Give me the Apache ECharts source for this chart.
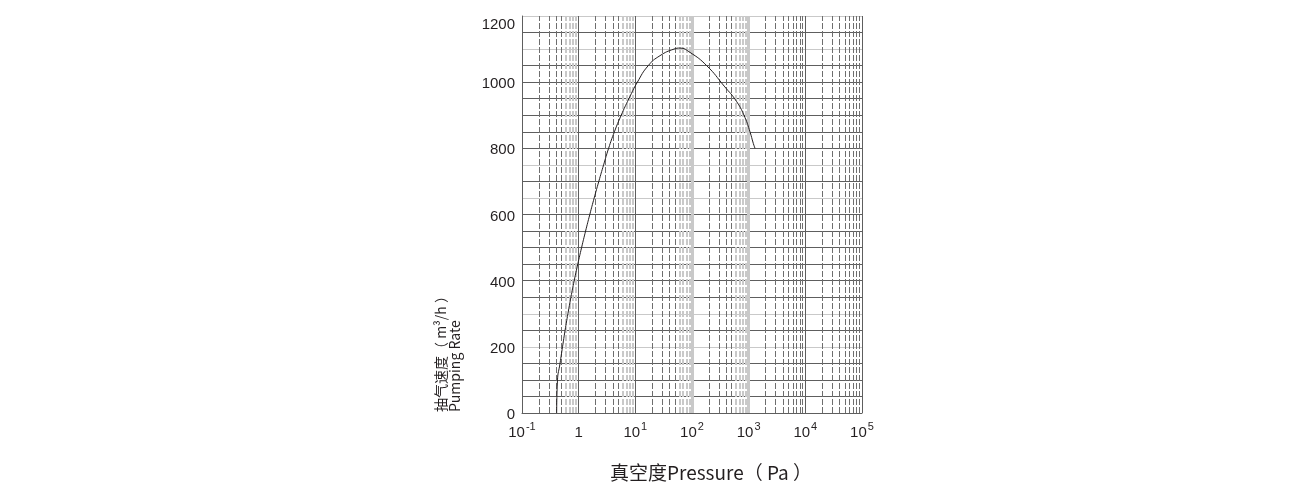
<!DOCTYPE html>
<html><head><meta charset="utf-8">
<script src="https://cdn.jsdelivr.net/npm/echarts@6/dist/echarts.min.js"></script>
<style>html,body{margin:0;padding:0;background:#fff}#c{width:1300px;height:500px}</style>
</head><body><div id="c"></div>
<script>
// ---- data ----
const pressure = [0.409, 0.423, 0.469, 0.519, 0.576, 0.646, 0.730, 0.834, 0.965, 1.126, 1.325, 1.572, 1.879, 2.266, 2.754, 3.375, 4.272, 5.63, 7.70, 10.87, 16.9, 27.2, 48.1, 61.4, 92.1, 181.6, 370, 614.8, 861, 1055, 1207, 1294];
const pumpingRate = [0, 100, 150, 200, 250, 300, 350, 400, 450, 500, 550, 600, 650, 700, 750, 800, 850, 900, 950, 1000, 1050, 1080, 1100, 1103, 1090, 1050, 988, 941, 893, 850, 815, 800];
const xTickExponents = [-1, 0, 1, 2, 3, 4, 5];
const yTickLabels = [0, 200, 400, 600, 800, 1000, 1200];
const xAxisName = '真空度Pressure（ Pa ）';
const yAxisNameLines = ['抽气速度（ m³/h ）', 'Pumping Rate'];

// ---- styling helpers ----
const DARK = '#5e5e5e';
const DASH = '#6e6e6e';
const LIGHT = '#c9c9c9';
const lightHoriz = [200, 300, 650, 750, 1100, 1200];
const hColors = [];
for (let v = 0; v <= 1200; v += 50) hColors.push(lightHoriz.includes(v) ? LIGHT : DARK);
const lightDecadeExps = [2, 3];
const vColors = xTickExponents.map(e => lightDecadeExps.includes(e) ? LIGHT : DARK);

const minorLines = [];
for (let e = xTickExponents[0]; e < xTickExponents[xTickExponents.length - 1]; e++) {
  for (let m = 2; m <= 9; m++) {
    const val = Number((m * Math.pow(10, e)).toPrecision(6));
    const light = m >= 6 && e <= 2;
    minorLines.push({
      xAxis: val,
      lineStyle: light ? {color: LIGHT, width: 2, type: [6, 2]} : {color: DASH, width: 1, type: [6, 2]}
    });
  }
}
lightDecadeExps.forEach(e => minorLines.push({xAxis: Math.pow(10, e), lineStyle: {color: LIGHT, width: 3, type: 'solid'}}));

const chart = echarts.init(document.getElementById('c'), null, {renderer: 'canvas'});
chart.setOption({
  animation: false,
  backgroundColor: '#fff',
  grid: {left: 522, right: 438, top: 16, bottom: 87, containLabel: false},
  xAxis: {
    type: 'log', logBase: 10, min: 0.1, max: 100000, interval: 1, splitNumber: 6,
    axisLine: {show: true, lineStyle: {color: DARK, width: 1}},
    axisTick: {show: false},
    splitLine: {show: true, lineStyle: {color: vColors, width: 1}},
    axisLabel: {
      margin: 8,
      fontFamily: 'Liberation Sans', color: '#231f20',
      formatter: function (v) {
        const e = Math.round(Math.log10(v));
        if (!xTickExponents.includes(e)) return '';
        if (e === 0) return '{b|1}';
        return '{b|10}{s|' + e + '}';
      },
      rich: {
        b: {fontSize: 15, lineHeight: 19, verticalAlign: 'bottom', fontFamily: 'Liberation Sans', color: '#231f20'},
        s: {fontSize: 11, lineHeight: 10, verticalAlign: 'top', fontFamily: 'Liberation Sans', color: '#231f20', padding: [0, 0, 0, 1]}
      }
    },
    name: xAxisName, nameLocation: 'middle', nameGap: 50,
    nameTextStyle: {fontFamily: 'Noto Sans CJK SC', fontSize: 19, color: '#231f20', padding: [0, 0, 0, 38]}
  },
  yAxis: {
    type: 'value', min: 0, max: 1200, interval: 50,
    axisLine: {show: true, lineStyle: {color: DARK, width: 1}},
    axisTick: {show: false},
    splitLine: {show: true, lineStyle: {color: hColors, width: 1}},
    axisLabel: {
      margin: 7, fontSize: 15, fontFamily: 'Liberation Sans', color: '#231f20',
      formatter: function (v) {
        if (!yTickLabels.includes(v)) return '';
        return v === yTickLabels[yTickLabels.length - 1] ? '{top|' + v + '}' : '{n|' + v + '}';
      },
      rich: {
        n: {fontSize: 15, fontFamily: 'Liberation Sans', color: '#231f20', padding: [4, 0, 0, 0]},
        top: {fontSize: 15, fontFamily: 'Liberation Sans', color: '#231f20', padding: [18, 0, 0, 0]}
      }
    }
  },
  graphic: [{
    type: 'text', x: 448, y: 412, rotation: Math.PI / 2, silent: true,
    style: {
      text: yAxisNameLines.join('\n'),
      fontFamily: 'Noto Sans CJK SC', fontSize: 14, lineHeight: 14,
      fill: '#231f20', align: 'left', verticalAlign: 'middle',
      textAlign: 'left', textVerticalAlign: 'middle'
    }
  }],
  series: [
    {
      type: 'line', silent: true, symbol: 'none', data: [],
      markLine: {silent: true, symbol: 'none', label: {show: false}, animation: false, data: minorLines}
    },
    {
      type: 'line', smooth: 0.5, symbol: 'none', silent: true,
      lineStyle: {color: '#231f20', width: 1},
      data: pressure.map((p, i) => [p, pumpingRate[i]]),
      z: 5
    }
  ]
});
</script>
</body></html>
